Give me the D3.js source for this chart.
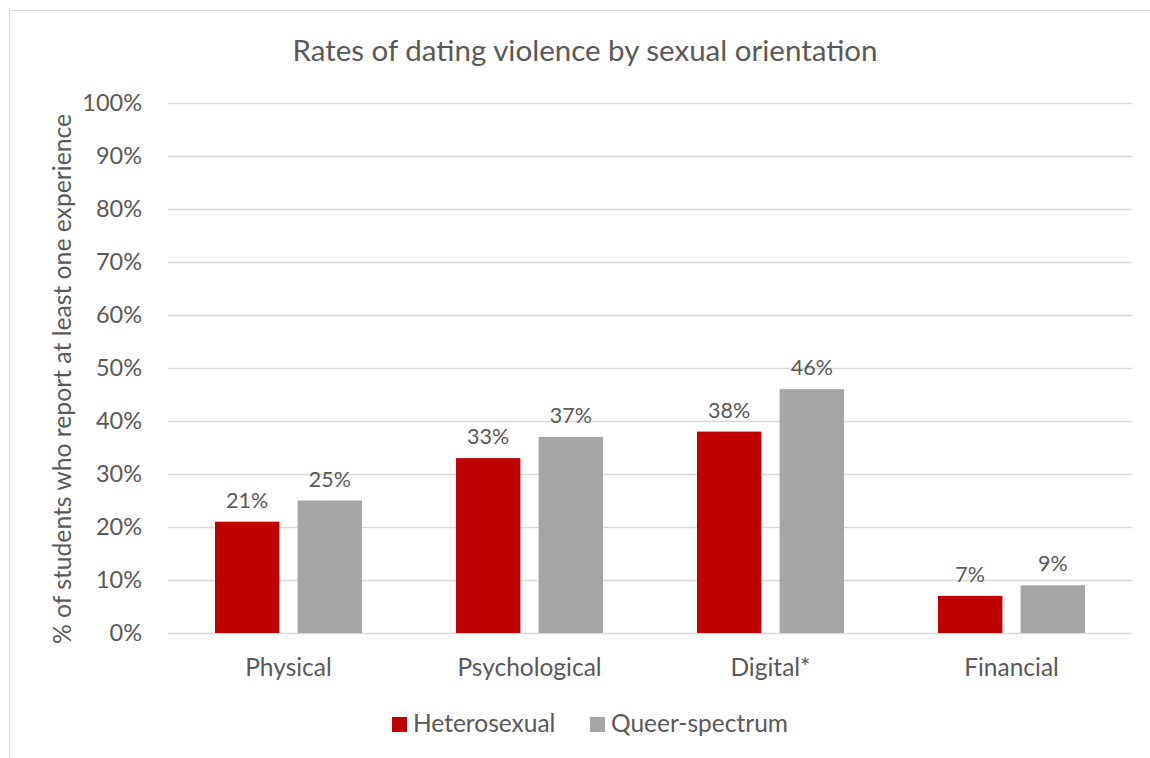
<!DOCTYPE html>
<html>
<head>
<meta charset="utf-8">
<script src="https://cdn.jsdelivr.net/npm/d3@7"></script>
<style>
  body { margin: 0; background: #fff; }
  svg text { font-family: Lato, sans-serif; fill: #595959; }
</style>
</head>
<body>
<div id="chart"></div>
<script>
// data
var categories = ["Physical", "Psychological", "Digital*", "Financial"];
var seriesNames = ["Heterosexual", "Queer-spectrum"];
var heterosexual = [0.21, 0.33, 0.38, 0.07];
var queerSpectrum = [0.25, 0.37, 0.46, 0.09];
var yTicks = [0, 0.1, 0.2, 0.3, 0.4, 0.5, 0.6, 0.7, 0.8, 0.9, 1.0];
var colors = ["#C00000", "#A5A5A5"];

var W = 1150, H = 758;
var margin = {top: 103, right: 18, bottom: 125, left: 168},
    width = W - margin.left - margin.right,
    height = H - margin.top - margin.bottom;

var svg = d3.select("#chart")
    .append("svg")
    .attr("width", W)
    .attr("height", H);

// outer chart border
svg.append("rect")
    .attr("x", 9.5).attr("y", 10.5)
    .attr("width", W + 20).attr("height", H + 20)
    .attr("fill", "none")
    .attr("stroke", "#d9d9d9");

svg.append("text")
    .attr("x", 585).attr("y", 61)
    .attr("text-anchor", "middle")
    .style("font-size", "29.5px")
    .text("Rates of dating violence by sexual orientation");

var g = svg.append("g")
    .attr("transform", "translate(" + margin.left + "," + margin.top + ")");

var x = d3.scaleBand()
    .domain(categories)
    .range([0, width])
    .paddingInner(0)
    .paddingOuter(0);

var x1 = d3.scaleBand()
    .domain(seriesNames)
    .range([47, x.bandwidth() - 47])
    .paddingInner(0.22);

var y = d3.scaleLinear()
    .domain([0, 1])
    .range([height, 0]);

// gridlines
g.append("g")
    .selectAll("line")
    .data(yTicks)
    .enter()
    .append("line")
    .attr("x1", 0).attr("x2", width)
    .attr("y1", function(d) { return Math.round(y(d)) + 0.5; })
    .attr("y2", function(d) { return Math.round(y(d)) + 0.5; })
    .attr("stroke", "#d9d9d9")
    .attr("stroke-width", 1.3);

// y axis labels
var yAxis = g.append("g")
    .call(d3.axisLeft(y).tickValues(yTicks).tickFormat(d3.format(".0%")).tickSize(0).tickPadding(26));
yAxis.select(".domain").remove();
yAxis.selectAll("text")
    .attr("fill", "#595959")
    .style("font-size", "23.5px")
    .style("font-family", "Lato, sans-serif");

// x axis labels
var xAxis = g.append("g")
    .attr("transform", "translate(0," + height + ")")
    .call(d3.axisBottom(x).tickSize(0).tickPadding(26));
xAxis.select(".domain").remove();
xAxis.selectAll("text")
    .attr("fill", "#595959")
    .style("font-size", "24.5px")
    .style("font-family", "Lato, sans-serif");

// y axis title
svg.append("text")
    .attr("transform", "translate(71," + (margin.top + height / 2 + 11) + ") rotate(-90)")
    .attr("text-anchor", "middle")
    .style("font-size", "24.7px")
    .text("% of students who report at least one experience");

// bars
var rows = categories.map(function(c, i) {
    return {cat: c, vals: [heterosexual[i], queerSpectrum[i]]};
});

var groups = g.selectAll(".grp")
    .data(rows)
    .enter()
    .append("g")
    .attr("class", "grp")
    .attr("transform", function(d) { return "translate(" + x(d.cat) + ",0)"; });

groups.selectAll("rect")
    .data(function(d) { return d.vals.map(function(v, j) { return {s: seriesNames[j], v: v, j: j}; }); })
    .enter()
    .append("rect")
    .attr("x", function(d) { return x1(d.s); })
    .attr("y", function(d) { return y(d.v); })
    .attr("width", x1.bandwidth())
    .attr("height", function(d) { return height - y(d.v); })
    .attr("fill", function(d) { return colors[d.j]; });

groups.selectAll(".lbl")
    .data(function(d) { return d.vals.map(function(v, j) { return {s: seriesNames[j], v: v, j: j}; }); })
    .enter()
    .append("text")
    .attr("class", "lbl")
    .attr("x", function(d) { return x1(d.s) + x1.bandwidth() / 2; })
    .attr("y", function(d) { return y(d.v) - 14; })
    .attr("text-anchor", "middle")
    .style("font-size", "21.5px")
    .text(function(d) { return d3.format(".0%")(d.v); });

// legend
var legendX = [392, 590];
var legend = svg.append("g");
seriesNames.forEach(function(s, i) {
    legend.append("rect")
        .attr("x", legendX[i]).attr("y", 717)
        .attr("width", 15).attr("height", 15)
        .attr("fill", colors[i]);
    legend.append("text")
        .attr("x", legendX[i] + 21).attr("y", 732)
        .style("font-size", "24.5px")
        .text(s);
});
</script>
</body>
</html>
